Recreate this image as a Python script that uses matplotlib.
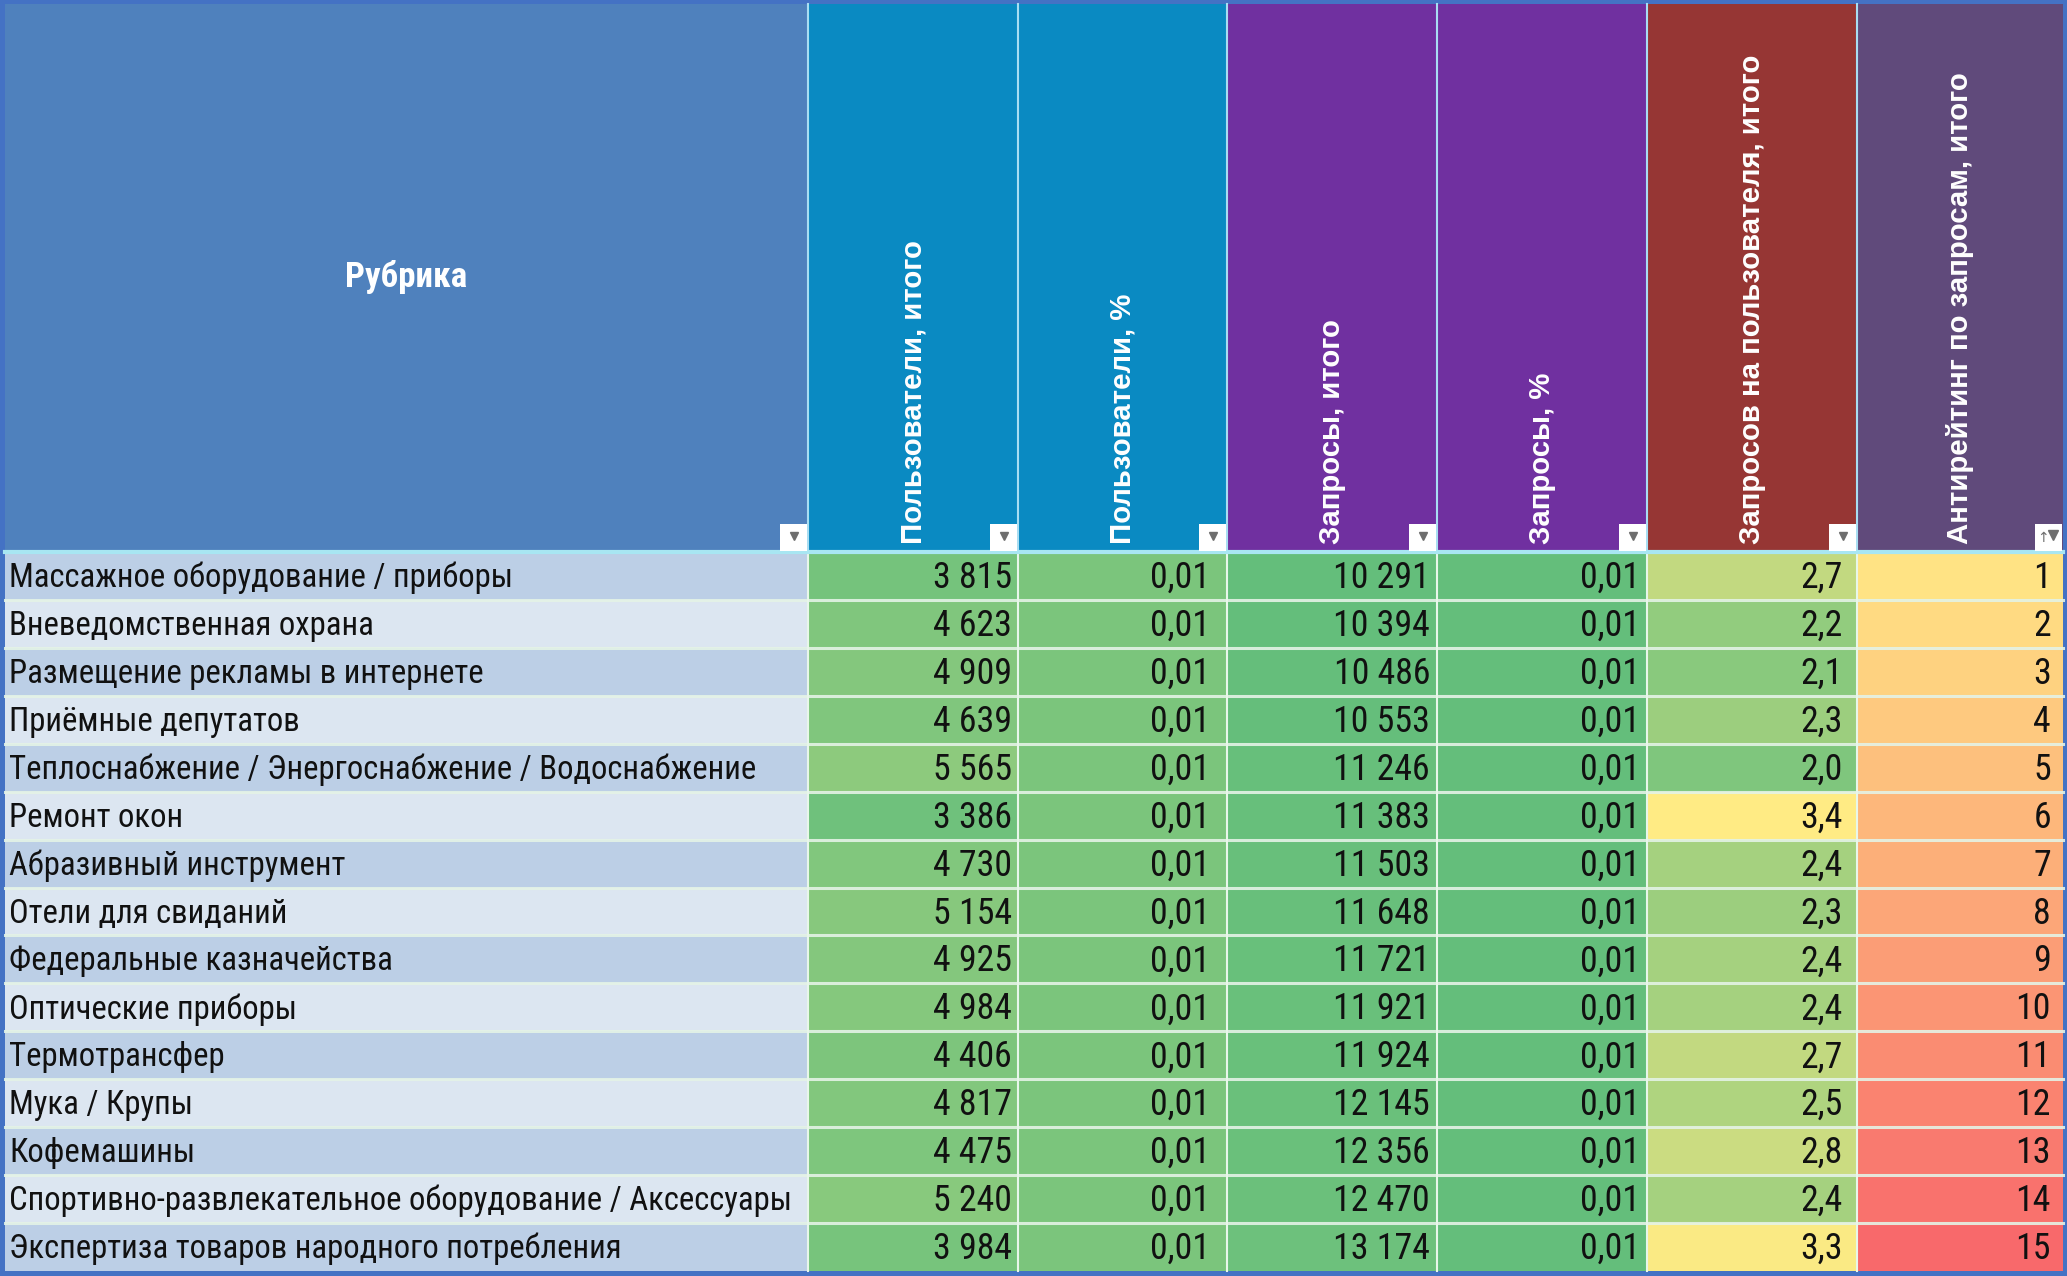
import matplotlib
matplotlib.use('Agg')
import matplotlib.pyplot as plt
import matplotlib.font_manager as fm
from matplotlib.patches import Rectangle
import numpy as np

rubrics = [
    'Массажное оборудование / приборы',
    'Вневедомственная охрана',
    'Размещение рекламы в интернете',
    'Приёмные депутатов',
    'Теплоснабжение / Энергоснабжение / Водоснабжение',
    'Ремонт окон',
    'Абразивный инструмент',
    'Отели для свиданий',
    'Федеральные казначейства',
    'Оптические приборы',
    'Термотрансфер',
    'Мука / Крупы',
    'Кофемашины',
    'Спортивно-развлекательное оборудование / Аксессуары',
    'Экспертиза товаров народного потребления',
]
users = [3815, 4623, 4909, 4639, 5565, 3386, 4730, 5154, 4925, 4984, 4406, 4817, 4475, 5240, 3984]
users_pct = [0.01] * 15
requests = [10291, 10394, 10486, 10553, 11246, 11383, 11503, 11648, 11721, 11921, 11924, 12145, 12356, 12470, 13174]
requests_pct = [0.01] * 15
per_user = [2.7, 2.2, 2.1, 2.3, 2.0, 3.4, 2.4, 2.3, 2.4, 2.4, 2.7, 2.5, 2.8, 2.4, 3.3]
antirating = list(range(1, 16))

headers = ['Рубрика', 'Пользователи, итого', 'Пользователи, %', 'Запросы, итого',
           'Запросы, %', 'Запросов на пользователя, итого', 'Антирейтинг по запросам, итого']
header_colors = ['#4F81BD', '#0A8AC2', '#0A8AC2', '#7030A0', '#7030A0', '#963634', '#604A7B']

names = {f.name for f in fm.fontManager.ttflist}


def pick(cands):
    for c in cands:
        if c in names:
            return c
    return 'DejaVu Sans'


NARROW = pick(['Roboto Condensed', 'PT Sans Narrow', 'Open Sans Condensed', 'IBM Plex Sans Condensed'])
WIDE = pick(['Arimo', 'Liberation Sans', 'DejaVu Sans'])


def fmt_int(v):
    return '{:,}'.format(v).replace(',', ' ')


def fmt_dec(v, n):
    return ('{:.%df}' % n).format(v).replace('.', ',')


def scale(v, lo, hi, c_lo, c_hi):
    t = np.clip((v - lo) / (hi - lo), 0, 1)
    a = np.array(matplotlib.colors.to_rgb(c_lo))
    b = np.array(matplotlib.colors.to_rgb(c_hi))
    return a + (b - a) * t


GREEN, YELLOW, RED = '#63BE7B', '#FFEB84', '#F8696B'

W, H = 2067, 1276
fig = plt.figure(figsize=(W / 100, H / 100), dpi=100)
ax = fig.add_axes([0, 0, 1, 1])
ax.set_xlim(0, W)
ax.set_ylim(H, 0)
ax.axis('off')
fig.patch.set_facecolor('#4472C4')
renderer = fig.canvas.get_renderer()


def fit_size(text, target_px, base=20, **kw):
    t = ax.text(0, 0, text, fontsize=base, **kw)
    w = t.get_window_extent(renderer).width
    t.remove()
    return base * target_px / w


body_fs = fit_size('Спортивно-развлекательное оборудование / Аксессуары', 783, family=NARROW)
num_fs = fit_size('3 815', 79, family=NARROW)
head_fs = fit_size('Запросов на пользователя, итого', 490, family=WIDE, weight='bold')
rub_fs = fit_size('Рубрика', 122, family=NARROW, weight='bold')

edges = [5, 808, 1018, 1227, 1437, 1647, 1857, 2063]
top, head_bottom, bottom = 4, 552, 1271
n = len(rubrics)
row_h = (bottom - head_bottom) / n

# header
for i, (h, c) in enumerate(zip(headers, header_colors)):
    x0, x1 = edges[i], edges[i + 1]
    ax.add_patch(Rectangle((x0, top), x1 - x0, head_bottom - top, color=c, lw=0))
    if i == 0:
        ax.text((x0 + x1) / 2, 277, h, color='white', fontsize=rub_fs, weight='bold',
                ha='center', va='center', family=NARROW)
    else:
        ax.text((x0 + x1) / 2, 544, h, color='white', fontsize=head_fs, rotation=90,
                ha='center', va='bottom', family=WIDE, weight='bold')
    # filter button
    ax.add_patch(Rectangle((x1 - 28, 524), 27, 27, color='white', lw=0, zorder=3))
    if i < 6:
        ax.plot(x1 - 14.5, 536, marker='v', ms=6, color='#6E6E6E', zorder=4)
    else:
        ax.plot(x1 - 10, 535, marker='v', ms=7, color='#6E6E6E', zorder=4)
        ax.text(x1 - 20, 538, '↑', fontsize=10, color='#6E6E6E', ha='center', va='center',
                family='DejaVu Sans', zorder=4)
for x in edges[1:-1]:
    ax.plot([x, x], [top, head_bottom], color='#A8DDF2', lw=1.5)

# body
col_colors = [
    [scale(v, 2500, 14000, GREEN, YELLOW) for v in users],
    ['#7BC57C'] * n,
    [scale(v, 10000, 60000, GREEN, YELLOW) for v in requests],
    ['#64BE7B'] * n,
    [scale(v, 1.7, 3.35, GREEN, YELLOW) for v in per_user],
    [scale(v, 1, 15, '#FFE384', RED) for v in antirating],
]
col_text = [
    [fmt_int(v) for v in users],
    [fmt_dec(v, 2) for v in users_pct],
    [fmt_int(v) for v in requests],
    [fmt_dec(v, 2) for v in requests_pct],
    [fmt_dec(v, 1) for v in per_user],
    [str(v) for v in antirating],
]
right_pad = [6, 17, 7, 7, 14, 12]

for r in range(n):
    y0 = head_bottom + r * row_h
    band = '#BCCFE6' if r % 2 == 0 else '#DCE6F1'
    ax.add_patch(Rectangle((edges[0], y0), edges[1] - edges[0], row_h, color=band, lw=0))
    ax.text(edges[0] + 4, y0 + row_h / 2 + 2, rubrics[r], fontsize=body_fs, color='#111111',
            ha='left', va='center', family=NARROW)
    for c in range(6):
        x0, x1 = edges[c + 1], edges[c + 2]
        ax.add_patch(Rectangle((x0, y0), x1 - x0, row_h, color=col_colors[c][r], lw=0))
        ax.text(x1 - right_pad[c], y0 + row_h / 2 + 2, col_text[c][r], fontsize=num_fs,
                color='#111111', ha='right', va='center', family=NARROW)

# grid lines
for r in range(1, n):
    y = head_bottom + r * row_h
    ax.plot([edges[0], edges[-1]], [y, y], color='#E4F3E6', lw=2.2, alpha=0.9)
for x in edges[1:-1]:
    ax.plot([x, x], [head_bottom, bottom], color='#E8F6EA', lw=1.5)
ax.plot([edges[0], edges[-1]], [head_bottom, head_bottom], color='#A8E6F2', lw=3)

fig.savefig('out.png', dpi=100, facecolor=fig.get_facecolor())
